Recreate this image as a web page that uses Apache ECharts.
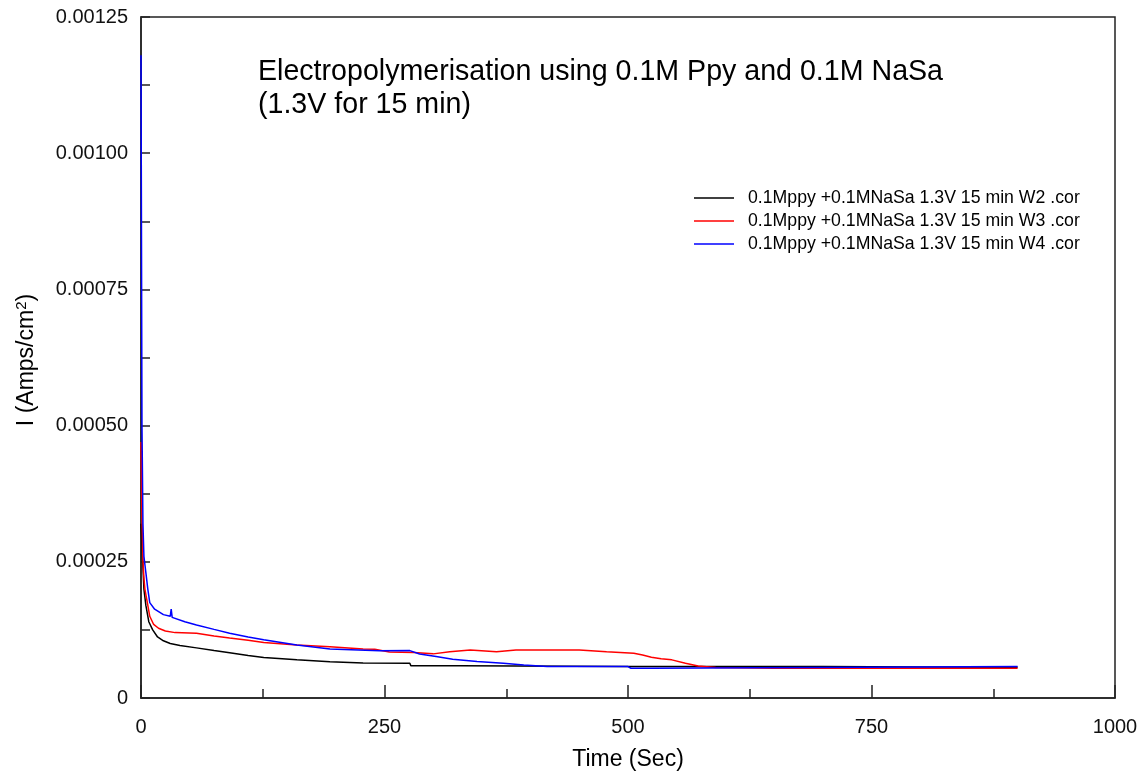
<!DOCTYPE html>
<html lang="en">
<head>
    <meta charset="UTF-8">
    <title>Electropolymerisation</title>
    <script src="https://cdn.jsdelivr.net/npm/echarts@6/dist/echarts.min.js"></script>
    <style>
        body{ margin:0; background:#fff; }
        #chart{ width:1144px; height:780px; }
    </style>
</head>
<body>
<div id="chart"></div>
<script>
    // values: [time (s), current (A/cm2)]
    var seriesNames = [
        "0.1Mppy +0.1MNaSa 1.3V 15 min W2 .cor",
        "0.1Mppy +0.1MNaSa 1.3V 15 min W3 .cor",
        "0.1Mppy +0.1MNaSa 1.3V 15 min W4 .cor"
    ]
    var w2 = [[0,0.00032],[1,0.00028],[2,0.00024],[3,0.0002],[5,0.00017],[8,0.00014],[12,0.000125],[17,0.000112],
        [23,0.000105],[30,0.0001],[40,0.0000965],[57,0.000092],[75,0.000087],[91,0.000083],[110,0.000078],
        [126,0.0000745],[145,0.000072],[160,0.00007],[194,0.0000667],[228,0.0000643],[276,0.0000637],
        [277,0.0000594],[328,0.0000594],[329,0.0000576],[500,0.0000576],[620,0.000058],[700,0.0000576],
        [800,0.000057],[900,0.0000565]]
    var w3 = [[0,0.00047],[1,0.00033],[2,0.00025],[3,0.00022],[4,0.0002],[6,0.00018],[9,0.00015],[13,0.000135],
        [18,0.000128],[25,0.000123],[35,0.00012],[57,0.000119],[75,0.000114],[91,0.00011],[110,0.000106],
        [126,0.000102],[160,0.0000974],[194,0.000094],[228,0.00009],[240,0.0000895],[255,0.0000845],
        [280,0.0000833],[300,0.000081],[317,0.0000851],[338,0.0000882],[365,0.000085],[385,0.0000882],
        [450,0.0000882],[478,0.000085],[506,0.000082],[515,0.000079],[524,0.0000748],[534,0.000072],
        [545,0.00007],[559,0.0000637],[572,0.0000588],[590,0.000056],[650,0.0000546],[900,0.0000546]]
    var w4 = [[0,0.00118],[1,0.0005],[2,0.00032],[3,0.00026],[5,0.00023],[7,0.0002],[9,0.000175],[14,0.000163],
        [23,0.000153],[30,0.00015],[31,0.000163],[32,0.000148],[45,0.00014],[57,0.000134],[75,0.000126],
        [91,0.000119],[110,0.000112],[126,0.000107],[160,0.0000974],[194,0.00009],[245,0.0000868],
        [276,0.000087],[286,0.0000809],[303,0.000076],[320,0.0000711],[345,0.0000668],[372,0.0000637],
        [393,0.0000607],[417,0.0000576],[500,0.0000576],[503,0.0000546],[524,0.0000546],[525,0.0000576],
        [900,0.0000576]]
    var lineColors = ["#000000", "#ff0000", "#0000ff"]

    var font = "Liberation Sans, Arial, sans-serif"
    var myChart = echarts.init(document.getElementById("chart"))

    var allData = [w2, w3, w4]
    var series = allData.map(function (d, i) {
        return {
            name: seriesNames[i],
            type: "line",
            data: d,
            symbol: "none",
            animation: false,
            lineStyle: { color: lineColors[i], width: 1.5 },
            itemStyle: { color: lineColors[i] }
        }
    })

    var option = {
        backgroundColor: "#fff",
        textStyle: { fontFamily: font },
        grid: {
            left: 141, right: 29, top: 17, bottom: 82,
            show: true, borderColor: "#222", borderWidth: 1.5
        },
        title: {
            text: "Electropolymerisation using 0.1M Ppy and 0.1M NaSa\n(1.3V for 15 min)",
            left: 253, top: 51,
            textStyle: { fontFamily: font, fontSize: 28.6, fontWeight: "normal", color: "#000", lineHeight: 33 }
        },
        legend: {
            orient: "vertical",
            left: 689, top: 184,
            icon: "rect",
            itemWidth: 40, itemHeight: 1.5, itemGap: 5,
            textStyle: { fontFamily: font, fontSize: 17.7, color: "#000", padding: [0, 0, 0, 9] },
            data: seriesNames
        },
        xAxis: {
            type: "value",
            min: 0, max: 1000, interval: 250,
            name: "Time (Sec)",
            nameLocation: "middle",
            nameGap: 50,
            nameTextStyle: { fontFamily: font, fontSize: 23, color: "#000" },
            axisLine: { onZero: false, lineStyle: { color: "#222", width: 1.5 } },
            axisTick: { inside: true, length: 13, lineStyle: { color: "#222", width: 1.5 } },
            minorTick: { show: true, splitNumber: 2, length: 9, lineStyle: { color: "#222", width: 1.5 } },
            splitLine: { show: false },
            axisLabel: {
                fontFamily: font, fontSize: 20, color: "#111", margin: 19,
                formatter: function (v) { return String(v) }
            }
        },
        yAxis: {
            type: "value",
            min: 0, max: 0.00125, interval: 0.00025,
            axisLine: { show: true, onZero: false, lineStyle: { color: "#222", width: 1.5 } },
            axisTick: { show: true, inside: true, length: 9, lineStyle: { color: "#222", width: 1.5 } },
            minorTick: { show: true, splitNumber: 2, length: 9, lineStyle: { color: "#222", width: 1.5 } },
            splitLine: { show: false },
            axisLabel: {
                fontFamily: font, fontSize: 20, color: "#111", margin: 13,
                formatter: function (v) { return v === 0 ? "0" : v.toFixed(5) }
            }
        },
        graphic: [{
            type: "text",
            x: 27, y: 360,
            rotation: Math.PI / 2,
            style: {
                text: "{n|I (Amps/cm}{s|2}{n|)}",
                align: "center",
                verticalAlign: "middle",
                rich: {
                    n: { fontFamily: font, fontSize: 23, fill: "#000" },
                    s: { fontFamily: font, fontSize: 15, fill: "#000", verticalAlign: "top", padding: [0, 0, 10, 0] }
                }
            }
        }],
        series: series
    }
    myChart.setOption(option)
</script>
</body>
</html>
